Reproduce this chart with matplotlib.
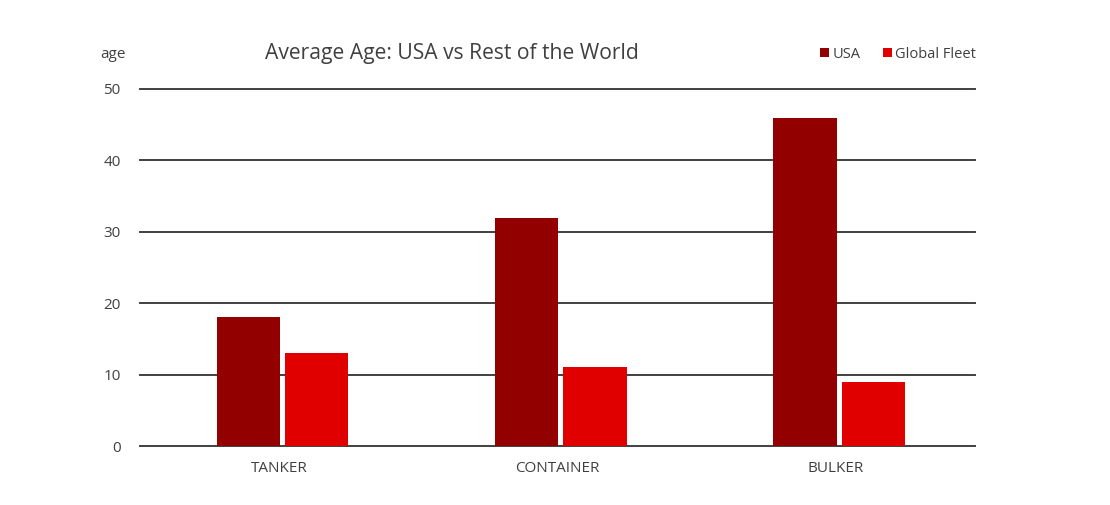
import matplotlib.pyplot as plt
import numpy as np

categories = ['TANKER', 'CONTAINER', 'BULKER']
usa = [18, 32, 46]
global_fleet = [13, 11, 9]
yticks = [0, 10, 20, 30, 40, 50]

plt.rcParams['font.family'] = ['Open Sans', 'DejaVu Sans']
text_color = '#404040'

fig = plt.figure(figsize=(11.1, 5.05), dpi=100)
ax = fig.add_axes([140 / 1110, 59 / 505, 835 / 1110, 357 / 505])

x = np.arange(len(categories))
w = 0.227
off = 0.1225
ax.bar(x - off + 0.012, usa, w, color='#920000', label='USA', zorder=3)
ax.bar(x + off + 0.012, global_fleet, w, color='#e00000', label='Global Fleet', zorder=3)

ax.set_xlim(-0.5, 2.5)
ax.set_ylim(0, 50)
ax.set_yticks(yticks)
ax.set_xticks(x)
ax.set_xticklabels(categories)
for y in yticks:
    ax.axhline(y, color='#404040', lw=1.4, zorder=2, clip_on=False)

for s in ax.spines.values():
    s.set_visible(False)
ax.tick_params(axis='both', length=0, labelsize=11, colors=text_color)
ax.tick_params(axis='x', pad=11)
ax.tick_params(axis='y', pad=14)

fig.text(113 / 1110, 1 - 54 / 505, 'age', ha='center', va='center', fontsize=11, color=text_color)
fig.text(452 / 1110, 1 - 53 / 505, 'Average Age: USA vs Rest of the World', ha='center', va='center',
         fontsize=15.2, color=text_color)

fig.legend(loc='center right', bbox_to_anchor=(976 / 1110, 1 - 54 / 505), ncol=2, frameon=False,
           fontsize=10.5, handlelength=0.6, handleheight=0.6, handletextpad=0.2, columnspacing=1.6,
           labelcolor=text_color, borderaxespad=0, borderpad=0)

fig.savefig('out.png', dpi=100)
